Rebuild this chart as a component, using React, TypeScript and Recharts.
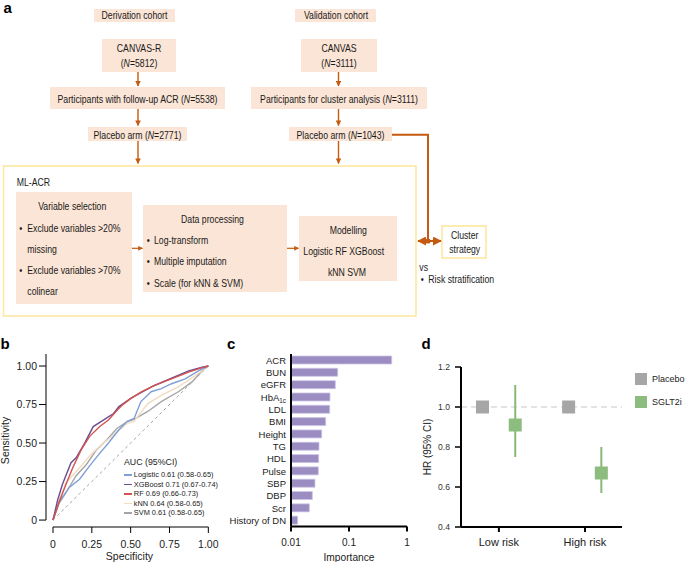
import React from 'react';
import {
  LineChart, Line, XAxis, YAxis, ReferenceLine, Legend,
  BarChart, Bar, ScatterChart, Scatter, ErrorBar, Label,
} from 'recharts';

const FONT = '"Liberation Sans", Arial, Helvetica, sans-serif';

/* ---------- panel b: ROC curves ---------- */
const rocNames = ['Logistic', 'XGBoost', 'RF', 'kNN', 'SVM'];
const rocLegend = [
  'Logistic 0.61 (0.58-0.65)',
  'XGBoost 0.71 (0.67-0.74)',
  'RF 0.69 (0.66-0.73)',
  'kNN 0.64 (0.58-0.65)',
  'SVM 0.61 (0.58-0.65)',
];
const rocColors = ['#7f9fd6', '#6b4e8f', '#d4524f', '#f3dcc2', '#a5a5a5'];

const logisticX = [0, 0.039, 0.105, 0.171, 0.237, 0.303, 0.357, 0.423, 0.478, 0.522, 0.566, 0.632, 0.697, 0.763, 0.851, 0.939, 1];
const logisticY = [0, 0.115, 0.212, 0.265, 0.353, 0.436, 0.5, 0.585, 0.641, 0.66, 0.769, 0.833, 0.853, 0.885, 0.917, 0.97, 1];
const xgbX = [0, 0.03, 0.061, 0.116, 0.149, 0.204, 0.259, 0.324, 0.39, 0.423, 0.5, 0.566, 0.65, 0.763, 0.873, 0.96, 1];
const xgbY = [0, 0.13, 0.233, 0.372, 0.404, 0.5, 0.607, 0.649, 0.692, 0.735, 0.79, 0.827, 0.872, 0.922, 0.968, 0.992, 1];
const rfX = [0, 0.039, 0.084, 0.127, 0.182, 0.237, 0.303, 0.357, 0.413, 0.445, 0.5, 0.566, 0.653, 0.763, 0.873, 0.961, 1];
const rfY = [0, 0.115, 0.233, 0.34, 0.457, 0.545, 0.609, 0.649, 0.713, 0.745, 0.788, 0.831, 0.874, 0.917, 0.96, 0.99, 1];
const knnX = [0, 0.04, 0.084, 0.171, 0.237, 0.303, 0.39, 0.478, 0.522, 0.61, 0.697, 0.807, 0.916, 1];
const knnY = [0, 0.13, 0.244, 0.34, 0.417, 0.481, 0.553, 0.628, 0.641, 0.756, 0.81, 0.865, 0.938, 1];
const svmX = [0, 0.04, 0.084, 0.149, 0.215, 0.281, 0.347, 0.413, 0.478, 0.522, 0.61, 0.697, 0.807, 0.895, 0.961, 1];
const svmY = [0, 0.11, 0.179, 0.288, 0.361, 0.457, 0.521, 0.596, 0.639, 0.654, 0.705, 0.769, 0.833, 0.897, 0.97, 1];
const rocTicks = [0, 0.25, 0.5, 0.75, 1];

/* ---------- panel c: feature importance ---------- */
const featureNames = ['ACR', 'BUN', 'eGFR', 'HbA1c', 'LDL', 'BMI', 'Height', 'TG', 'HDL', 'Pulse', 'SBP', 'DBP', 'Scr', 'History of DN'];
const importance = [0.545, 0.0638, 0.0581, 0.047, 0.0464, 0.0396, 0.0338, 0.0304, 0.03, 0.0296, 0.0259, 0.0233, 0.0207, 0.013];
const importanceTicks = [0.01, 0.1, 1];

/* ---------- panel d: hazard ratios ---------- */
const riskGroups = ['Low risk', 'High risk'];
const placeboHR = [1.0, 1.0];
const sglt2iHR = [0.91, 0.67];
const sglt2iLower = [0.75, 0.57];
const sglt2iUpper = [1.11, 0.8];
const hrTicks = [0.4, 0.6, 0.8, 1.0, 1.2];
const armNames = ['Placebo', 'SGLT2i'];
const armColors = ['#a6a6a6', '#8cbd7e'];

const zip = (xs: number[], ys: number[]) => xs.map((x, i) => ({ x, y: ys[i] }));
const rocSeries = [
  zip(logisticX, logisticY),
  zip(xgbX, xgbY),
  zip(rfX, rfY),
  zip(knnX, knnY),
  zip(svmX, svmY),
];
const drawOrder = [4, 3, 0, 1, 2];

const importanceData = featureNames.map((name, i) => ({ name, v: importance[i] }));
const GROUP_OFFSET = 0.19;
const placeboData = riskGroups.map((g, i) => ({ x: i + 1 - GROUP_OFFSET, y: placeboHR[i] }));
const sglt2iData = riskGroups.map((g, i) => ({
  x: i + 1 + GROUP_OFFSET,
  y: sglt2iHR[i],
  err: [sglt2iHR[i] - sglt2iLower[i], sglt2iUpper[i] - sglt2iHR[i]],
}));

/* ---------- flow diagram helpers ---------- */
const ARROW = '#c55a11';
const PEACH = '#fbe5d6';
const YELLOW = '#fde8a0';

const Nt = ({ x, y, children, anchor = 'middle', size = 10.9 }: any) => (
  <text
    transform={`translate(${x},${y}) scale(0.8,1)`}
    textAnchor={anchor}
    dominantBaseline="central"
    fontSize={size}
    fill="#1a1a1a"
    fontFamily={FONT}
  >
    {children}
  </text>
);
const It = ({ children }: any) => <tspan fontStyle="italic">{children}</tspan>;

const peachBoxes = [
  [94, 9, 81, 13], [295, 9, 81, 13], [102, 39, 74, 33], [301, 39, 76, 33],
  [50, 87, 175, 22], [251, 87, 176, 22], [88, 127, 99, 14], [289, 127, 103, 14],
  [16, 192, 116, 112], [143, 205, 144, 87], [299, 216, 98, 65],
];

const Diagram = () => (
  <svg width={685} height={562} style={{ position: 'absolute', left: 0, top: 0 }}>
    <defs>
      <marker id="ah" viewBox="0 0 10 10" refX="9" refY="5" markerWidth="4" markerHeight="4" orient="auto-start-reverse">
        <path d="M0,0 L10,5 L0,10 z" fill={ARROW} />
      </marker>
      <marker id="ah2" viewBox="0 0 10 10" refX="9" refY="5" markerWidth="4.5" markerHeight="4.5" orient="auto-start-reverse">
        <path d="M0,0 L10,5 L0,10 z" fill={ARROW} />
      </marker>
    </defs>
    {/* panel letters */}
    <text x={3.5} y={12.5} fontSize={15} fontWeight="bold" fontFamily={FONT}>a</text>
    <text x={0.5} y={348.5} fontSize={15} fontWeight="bold" fontFamily={FONT}>b</text>
    <text x={227} y={348.5} fontSize={15} fontWeight="bold" fontFamily={FONT}>c</text>
    <text x={421.5} y={348.5} fontSize={15} fontWeight="bold" fontFamily={FONT}>d</text>

    <rect x={3.5} y={166} width={412.5} height={150} fill="none" stroke={YELLOW} strokeWidth={1.6} />
    {peachBoxes.map((b, i) => (
      <rect key={i} x={b[0]} y={b[1]} width={b[2]} height={b[3]} fill={PEACH} />
    ))}
    <rect x={442} y={226} width={44} height={32} fill="#fff" stroke={YELLOW} strokeWidth={1.6} />

    {/* arrows */}
    {[138, 338.5].map((x) => (
      <g key={x}>
        <line x1={x} y1={72} x2={x} y2={86} stroke={ARROW} strokeWidth={1.4} markerEnd="url(#ah)" />
        <line x1={x} y1={109} x2={x} y2={125.5} stroke={ARROW} strokeWidth={1.4} markerEnd="url(#ah)" />
        <line x1={x} y1={141} x2={x} y2={163.5} stroke={ARROW} strokeWidth={1.4} markerEnd="url(#ah)" />
      </g>
    ))}
    <line x1={132} y1={248.3} x2={142.5} y2={248.3} stroke={ARROW} strokeWidth={1.2} markerEnd="url(#ah)" />
    <line x1={287} y1={248.3} x2={298.5} y2={248.3} stroke={ARROW} strokeWidth={1.2} markerEnd="url(#ah)" />
    <polyline points="392,134.7 428,134.7 428,241" fill="none" stroke={ARROW} strokeWidth={2} />
    <line x1={418} y1={241} x2={441} y2={241} stroke={ARROW} strokeWidth={2} markerStart="url(#ah2)" markerEnd="url(#ah2)" />
    <circle cx={428} cy={241} r={2.6} fill={ARROW} />

    {/* texts */}
    <Nt x={134.5} y={15.5}>Derivation cohort</Nt>
    <Nt x={336} y={15.5}>Validation cohort</Nt>
    <Nt x={139} y={48.3}>CANVAS-R</Nt>
    <Nt x={139} y={62.7}>(<It>N</It>=5812)</Nt>
    <Nt x={339} y={48.3}>CANVAS</Nt>
    <Nt x={339} y={62.7}>(<It>N</It>=3111)</Nt>
    <Nt x={137.5} y={99}>Participants with follow-up ACR (<It>N</It>=5538)</Nt>
    <Nt x={339} y={99}>Participants for cluster analysis (<It>N</It>=3111)</Nt>
    <Nt x={137.5} y={135}>Placebo arm (<It>N</It>=2771)</Nt>
    <Nt x={340.5} y={135}>Placebo arm (<It>N</It>=1043)</Nt>

    <Nt x={16.7} y={182} anchor="start">ML-ACR</Nt>
    <Nt x={72.2} y={206}>Variable selection</Nt>
    <Nt x={19.3} y={227.7} anchor="start">•</Nt>
    <Nt x={27.3} y={227.7} anchor="start">Exclude variables &gt;20%</Nt>
    <Nt x={27.3} y={248.7} anchor="start">missing</Nt>
    <Nt x={19.3} y={270} anchor="start">•</Nt>
    <Nt x={27.3} y={270} anchor="start">Exclude variables &gt;70%</Nt>
    <Nt x={27.3} y={290.7} anchor="start">colinear</Nt>

    <Nt x={212.5} y={219}>Data processing</Nt>
    <Nt x={146.7} y={240.3} anchor="start">•</Nt>
    <Nt x={154} y={240.3} anchor="start">Log-transform</Nt>
    <Nt x={146.7} y={261} anchor="start">•</Nt>
    <Nt x={154} y={261} anchor="start">Multiple imputation</Nt>
    <Nt x={146.7} y={283.3} anchor="start">•</Nt>
    <Nt x={154} y={283.3} anchor="start">Scale (for kNN &amp; SVM)</Nt>

    <Nt x={348.3} y={229.7}>Modelling</Nt>
    <Nt x={343.7} y={251}>Logistic RF XGBoost</Nt>
    <Nt x={347} y={272.3}>kNN SVM</Nt>

    <Nt x={464.7} y={234.7}>Cluster</Nt>
    <Nt x={464.7} y={249.3}>strategy</Nt>
    <Nt x={419.3} y={266.7} anchor="start">vs</Nt>
    <Nt x={420.7} y={278.7} anchor="start">•</Nt>
    <Nt x={428.3} y={278.7} anchor="start">Risk stratification</Nt>
  </svg>
);

/* ---------- panel b ---------- */
const RocLegend = () => (
  <div style={{ fontFamily: FONT, color: '#222', whiteSpace: 'nowrap' }}>
    <div style={{ fontSize: 8.8, lineHeight: '12px' }}>AUC (95%CI)</div>
    <div style={{ marginTop: 2 }}>
      {rocLegend.map((t, i) => (
        <div key={t} style={{ display: 'flex', alignItems: 'center', height: 9.5, fontSize: 7.4 }}>
          <span style={{ display: 'inline-block', width: 7.5, height: 1.5, background: rocColors[i], marginRight: 2.3 }} />
          <span>{t}</span>
        </div>
      ))}
    </div>
  </div>
);

const RocChart = () => (
  <div style={{ position: 'absolute', left: 0, top: 330 }}>
    <LineChart width={230} height={232} margin={{ top: 24, right: 17, bottom: 5, left: 0 }}>
      <XAxis
        type="number" dataKey="x" domain={[-0.045, 1.03]} allowDataOverflow ticks={rocTicks}
        tickFormatter={(v: number) => (v === 0 ? '0' : v.toFixed(2))}
        axisLine={false} tickLine={{ stroke: '#000' }} tickSize={6} tickMargin={8} height={30}
        tick={{ fontSize: 10.5, fill: '#222', fontFamily: FONT }}
      >
        <Label value="Specificity" position="insideBottom" offset={-3} style={{ fontSize: 10.5, fill: '#222', fontFamily: FONT }} />
      </XAxis>
      <YAxis
        type="number" domain={[-0.045, 1.078]} allowDataOverflow ticks={rocTicks}
        tickFormatter={(v: number) => (v === 0 ? '0' : v.toFixed(2))}
        axisLine={false} tickLine={{ stroke: '#000' }} tickSize={7} tickMargin={2} width={46}
        tick={{ fontSize: 10.5, fill: '#222', fontFamily: FONT }}
      >
        <Label value="Sensitivity" angle={-90} position="insideLeft" offset={5} style={{ textAnchor: 'middle', fontSize: 10.5, fill: '#222', fontFamily: FONT }} />
      </YAxis>
      <ReferenceLine segment={[{ x: 0, y: -0.045 }, { x: 1, y: -0.045 }]} stroke="#000" strokeWidth={1} ifOverflow="visible" />
      <ReferenceLine segment={[{ x: -0.045, y: 0 }, { x: -0.045, y: 1.078 }]} stroke="#000" strokeWidth={1} ifOverflow="visible" />
      <ReferenceLine segment={[{ x: 0, y: 0 }, { x: 1, y: 1 }]} stroke="#9a9a9a" strokeDasharray="3 3" strokeWidth={0.9} />
      {drawOrder.map((i) => (
        <Line
          key={rocNames[i]} name={rocNames[i]} data={rocSeries[i]} dataKey="y" type="linear"
          stroke={rocColors[i]} strokeWidth={1.4} dot={false} isAnimationActive={false}
        />
      ))}
      <Legend layout="vertical" align="center" verticalAlign="middle" wrapperStyle={{ left: 124, top: 126, width: 110 }} content={() => <RocLegend />} />
    </LineChart>
  </div>
);

/* ---------- panel c ---------- */
const FeatureTick = (props: any) => {
  const { x, y, payload } = props;
  const name = payload.value as string;
  const common = { x, y, textAnchor: 'end', dominantBaseline: 'central', fontSize: 9.5, fill: '#222', fontFamily: FONT } as any;
  if (name === 'HbA1c') {
    return (
      <text {...common}>
        <tspan>HbA</tspan>
        <tspan fontSize={6.3} dy={2.5}>1c</tspan>
      </text>
    );
  }
  return <text {...common}>{name}</text>;
};

const ImportanceChart = () => (
  <div style={{ position: 'absolute', left: 220, top: 330 }}>
    <BarChart layout="vertical" width={200} height={232} data={importanceData} margin={{ top: 24, right: 13, bottom: 5.5, left: 0 }}>
      <XAxis
        type="number" scale="log" domain={[0.01, 1]} allowDataOverflow ticks={importanceTicks}
        axisLine={{ stroke: '#000', strokeWidth: 2 }} tickLine={{ stroke: '#000', strokeWidth: 2 }}
        tickSize={5} tickMargin={7.5} height={30}
        tick={{ fontSize: 10, fill: '#222', fontFamily: FONT }}
      >
        <Label value="Importance" position="insideBottom" offset={-4} style={{ fontSize: 10.2, fill: '#222', fontFamily: FONT }} />
      </XAxis>
      <YAxis
        type="category" dataKey="name" width={71} interval={0}
        axisLine={{ stroke: '#000', strokeWidth: 2 }} tickLine={false} tickSize={0} tickMargin={5}
        tick={<FeatureTick />}
      />
      <Bar dataKey="v" fill="#9b8dc2" stroke="#cdc4e4" strokeWidth={0.8} barSize={8} isAnimationActive={false} />
    </BarChart>
  </div>
);

/* ---------- panel d ---------- */
const HrLegend = () => (
  <div style={{ fontFamily: FONT, color: '#222', whiteSpace: 'nowrap' }}>
    {armNames.map((n, i) => (
      <div key={n} style={{ display: 'flex', alignItems: 'center', height: 12, marginBottom: 10.5, fontSize: 9 }}>
        <span style={{ display: 'inline-block', width: 12, height: 12, background: armColors[i], marginRight: 5 }} />
        <span>{n}</span>
      </div>
    ))}
  </div>
);

const squareShape = (color: string) => (p: any) => (
  <rect x={p.cx - 6.5} y={p.cy - 6.5} width={13} height={13} fill={color} />
);

const HrChart = () => (
  <div style={{ position: 'absolute', left: 415, top: 330 }}>
    <ScatterChart width={270} height={232} margin={{ top: 37, right: 63, bottom: 5, left: 0 }}>
      <XAxis
        type="number" dataKey="x" domain={[0.56, 2.43]} allowDataOverflow ticks={[1, 2]}
        tickFormatter={(v: number) => riskGroups[Math.round(v) - 1]}
        axisLine={{ stroke: '#000', strokeWidth: 2 }} tickLine={{ stroke: '#000', strokeWidth: 2 }}
        tickSize={5} tickMargin={6} height={30}
        tick={{ fontSize: 11, fill: '#222', fontFamily: FONT }}
      />
      <YAxis
        type="number" dataKey="y" domain={[0.4, 1.2]} allowDataOverflow ticks={hrTicks}
        tickFormatter={(v: number) => v.toFixed(1)}
        axisLine={{ stroke: '#000', strokeWidth: 2 }} tickLine={{ stroke: '#000', strokeWidth: 1.5 }}
        tickSize={6} tickMargin={5} width={46}
        tick={{ fontSize: 8.6, fill: '#333', fontFamily: FONT }}
      >
        <Label value="HR (95% CI)" angle={-90} position="insideLeft" offset={12} style={{ textAnchor: 'middle', fontSize: 10, fill: '#222', fontFamily: FONT }} />
      </YAxis>
      <ReferenceLine y={1} stroke="#dadada" strokeWidth={1.5} strokeDasharray="6 4" />
      <Scatter name={armNames[0]} data={placeboData} fill={armColors[0]} shape={squareShape(armColors[0])} isAnimationActive={false} />
      <Scatter name={armNames[1]} data={sglt2iData} fill={armColors[1]} shape={squareShape(armColors[1])} isAnimationActive={false}>
        <ErrorBar dataKey="err" direction="y" width={0} stroke="#86b978" strokeWidth={2} />
      </Scatter>
      <Legend layout="vertical" align="center" verticalAlign="middle" wrapperStyle={{ left: 220, top: 43, width: 60 }} content={() => <HrLegend />} />
    </ScatterChart>
  </div>
);

export default function App() {
  return (
    <div style={{ position: 'absolute', left: 0, top: 0, width: 685, height: 562, background: '#fff', overflow: 'hidden', fontFamily: FONT }}>
      <Diagram />
      <RocChart />
      <ImportanceChart />
      <HrChart />
    </div>
  );
}
